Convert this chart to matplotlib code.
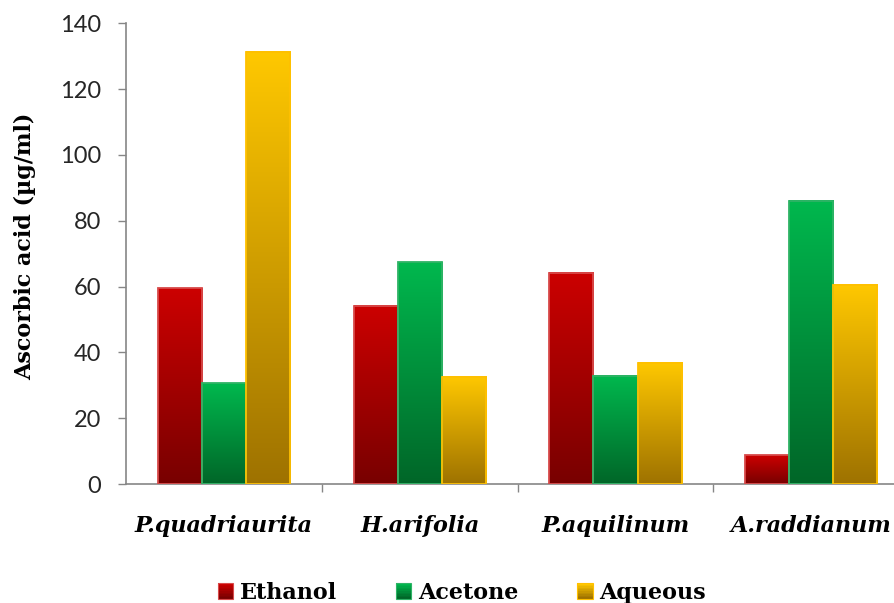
import numpy as np
import matplotlib

matplotlib.use("Agg")
import matplotlib.pyplot as plt  # noqa: E402
from matplotlib.colors import LinearSegmentedColormap  # noqa: E402
from matplotlib.legend_handler import HandlerBase  # noqa: E402
from matplotlib.patches import Rectangle  # noqa: E402

species = ["P.quadriaurita", "H.arifolia", "P.aquilinum", "A.raddianum"]
solvents = ["Ethanol", "Acetone", "Aqueous"]
ethanol = [59.5, 54.1, 64.2, 8.8]
acetone = [30.6, 67.4, 33.0, 86.0]
aqueous = [131.2, 32.6, 36.8, 60.6]
y_ticks = [0, 20, 40, 60, 80, 100, 120, 140]

# (top colour, bottom colour, edge colour) for each solvent
STYLES = [
    ("#cc0000", "#780000", "#d84a4a"),
    ("#00b84e", "#006628", "#2fb366"),
    ("#ffc800", "#9e7200", "#ffc000"),
]
SERIF = "DejaVu Serif"
BAR_WIDTH = 0.225


def gradient_cmap(top, bottom):
    return LinearSegmentedColormap.from_list("grad", [bottom, top])


class GradientHandler(HandlerBase):
    """Legend key drawn as a small vertically shaded square."""

    def create_artists(self, legend, orig_handle, xdescent, ydescent,
                       width, height, fontsize, trans):
        top, bottom, edge = orig_handle
        cmap = gradient_cmap(top, bottom)
        side = height * 1.0
        x0 = -xdescent + width - side
        y0 = -ydescent
        artists = []
        steps = 10
        for i in range(steps):
            artists.append(Rectangle((x0, y0 + side * i / steps), side, side / steps + 0.3,
                                     facecolor=cmap(i / (steps - 1)), edgecolor="none",
                                     transform=trans))
        artists.append(Rectangle((x0, y0), side, side, facecolor="none",
                                 edgecolor=edge, linewidth=0.8, transform=trans))
        return artists


fig = plt.figure(figsize=(8.94, 6.03), dpi=100)
ax = fig.add_axes([0.141, 0.197, 0.876, 0.7645])

series = [ethanol, acetone, aqueous]
shade = np.linspace(0, 1, 256).reshape(-1, 1)
for idx, (values, (top, bottom, edge)) in enumerate(zip(series, STYLES)):
    cmap = gradient_cmap(top, bottom)
    for cat, value in enumerate(values):
        left = cat + (idx - 1) * BAR_WIDTH - BAR_WIDTH / 2
        ax.imshow(shade, cmap=cmap, aspect="auto", origin="lower",
                  extent=(left, left + BAR_WIDTH, 0, value), zorder=2,
                  interpolation="bilinear")
        ax.add_patch(Rectangle((left, 0), BAR_WIDTH, value, facecolor="none",
                               edgecolor=edge, linewidth=1.3, zorder=3))

ax.set_xlim(-0.5, 3.5)
ax.set_ylim(0, 140)
ax.set_yticks(y_ticks)
ax.set_yticklabels([str(t) for t in y_ticks], fontsize=17, family="Lato", color="#262626")

ax.set_xticks([0.5, 1.5, 2.5, 3.5])
ax.set_xticklabels([])
ax.set_xticks(range(len(species)), minor=True)
ax.set_xticklabels(species, minor=True, fontsize=16, family=SERIF,
                   fontweight="bold", style="italic")
ax.tick_params(axis="x", which="minor", length=0, pad=22)
ax.tick_params(axis="x", which="major", length=6, color="#868686", width=1)
ax.tick_params(axis="y", length=6, color="#868686", width=1, pad=12)

for side in ("top", "right"):
    ax.spines[side].set_visible(False)
for side in ("left", "bottom"):
    ax.spines[side].set_color("#868686")
    ax.spines[side].set_linewidth(1.2)

ax.set_ylabel("Ascorbic acid (µg/ml)", fontsize=16, family=SERIF, fontweight="bold")
ax.yaxis.set_label_coords(-0.115, 0.515)

fig.legend(STYLES, solvents, handler_map={tuple: GradientHandler()},
           loc="center", bbox_to_anchor=(0.516, 0.017), ncol=3, frameon=False,
           prop={"family": SERIF, "weight": "bold", "size": 16},
           handlelength=0.75, handletextpad=0.3, columnspacing=2.6)

fig.savefig("out.png", dpi=100)
plt.close(fig)
